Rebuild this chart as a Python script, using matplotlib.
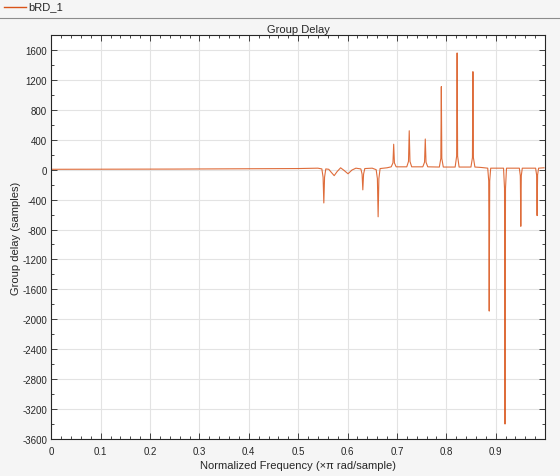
import matplotlib
matplotlib.use("Agg")
import matplotlib.pyplot as plt
from matplotlib.ticker import MultipleLocator
from matplotlib.lines import Line2D

plt.rcParams['font.family'] = ['Liberation Sans', 'DejaVu Sans']
plt.rcParams['axes.unicode_minus'] = False

# Data (normalized frequency, group delay in samples)
freq = [0.000, 0.250, 0.500, 0.540,
        0.548, 0.5505, 0.552, 0.5535, 0.556,
        0.562, 0.567, 0.573, 0.579, 0.586, 0.593, 0.601, 0.609, 0.617,
        0.627, 0.6295, 0.631, 0.6325, 0.635,
        0.650, 0.658, 0.6605, 0.662, 0.6635, 0.666,
        0.680,
        0.6885, 0.692, 0.6935, 0.695, 0.6985,
        0.720, 0.7235, 0.725, 0.7265, 0.730,
        0.7525, 0.756, 0.7575, 0.759, 0.7625,
        0.786, 0.789, 0.790, 0.791, 0.794,
        0.818, 0.821, 0.822, 0.823, 0.826,
        0.850, 0.853, 0.854, 0.855, 0.858,
        0.870,
        0.884, 0.886, 0.887, 0.888, 0.890,
        0.916, 0.918, 0.919, 0.920, 0.922,
        0.948, 0.950, 0.951, 0.952, 0.954,
        0.981, 0.983, 0.984, 0.985, 0.987,
        0.998]
gd = [5, 8, 15, 20,
      10, -100, -445, -100, 10,
      5, -35, -80, -25, 25, -10, -55, -5, 20,
      10, -60, -270, -60, 15,
      20, 0, -120, -630, -120, 15,
      25,
      38, 90, 340, 90, 38,
      38, 110, 520, 110, 38,
      38, 100, 410, 100, 38,
      35, 150, 1110, 150, 35,
      35, 180, 1560, 180, 35,
      35, 160, 1310, 160, 35,
      30,
      20, -150, -1890, -150, 20,
      20, -250, -3400, -250, 20,
      20, -80, -757, -80, 20,
      20, -70, -614, -70, 20,
      25]

x_ticks = [0, 0.1, 0.2, 0.3, 0.4, 0.5, 0.6, 0.7, 0.8, 0.9]
x_ticklabels = ['0', '0.1', '0.2', '0.3', '0.4', '0.5', '0.6', '0.7', '0.8', '0.9']
y_ticks = list(range(-3600, 1601, 400))

W, H = 560, 477
fig = plt.figure(figsize=(W / 100, H / 100), dpi=100, facecolor='#f5f5f5')

# axes in pixel coordinates
L, R, T, B = 51.3, 545, 36, 440
ax = fig.add_axes([L / W, 1 - B / H, (R - L) / W, (B - T) / H])
ax.set_facecolor('white')

line_color = '#D95319'
ax.plot(freq, gd, color=line_color, lw=0.8, alpha=0.85)

ax.set_xlim(0, 1)
ax.set_ylim(-3600, 1800)
ax.set_xticks(x_ticks)
ax.set_xticklabels(x_ticklabels)
ax.set_yticks(y_ticks)
ax.xaxis.set_minor_locator(MultipleLocator(0.02))
ax.yaxis.set_minor_locator(MultipleLocator(200))

ax.grid(True, which='major', color='#e3e3e3', lw=0.8)
ax.set_axisbelow(True)

for s in ax.spines.values():
    s.set_color('#262626')
    s.set_linewidth(0.8)

ax.tick_params(which='both', direction='in', top=True, right=True,
               colors='#262626', labelsize=7)
ax.tick_params(which='major', length=4, width=0.6, pad=3)
ax.tick_params(axis='x', which='major', pad=5)
ax.tick_params(which='minor', length=2, width=0.6)

ax.set_title('Group Delay', fontsize=8, color='#262626', pad=2)
ax.set_xlabel('Normalized Frequency (\u00d7\u03c0 rad/sample)', fontsize=8, color='#262626', labelpad=3)
ax.set_ylabel('Group delay (samples)', fontsize=8, color='#262626', labelpad=1)

# legend strip at top
fig.add_artist(Line2D([0, 1], [1 - 18.5 / H, 1 - 18.5 / H], transform=fig.transFigure,
                      color='#8c8c8c', lw=0.8))
fig.add_artist(Line2D([4 / W, 26 / W], [1 - 7.5 / H, 1 - 7.5 / H], transform=fig.transFigure,
                      color=line_color, lw=1.0))
fig.text(28 / W, 1 - 7.5 / H, 'bRD_1', fontsize=8, color='#262626', va='center', ha='left')

fig.savefig('out.png', dpi=100, facecolor=fig.get_facecolor())
